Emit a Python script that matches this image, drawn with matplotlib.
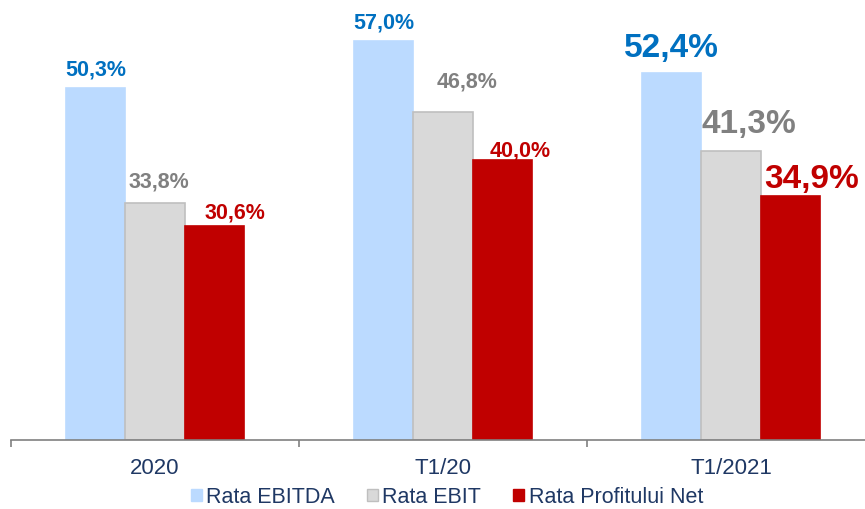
import matplotlib
matplotlib.use("Agg")
import matplotlib.pyplot as plt
import numpy as np
from matplotlib.patches import Patch

categories = ["2020", "T1/20", "T1/2021"]
ebitda = [50.3, 57.0, 52.4]
ebit = [33.8, 46.8, 41.3]
net = [30.6, 40.0, 34.9]
series_names = ["Rata EBITDA", "Rata EBIT", "Rata Profitului Net"]

plt.rcParams['font.family'] = ['Liberation Sans', 'DejaVu Sans']

fig = plt.figure(figsize=(8.65, 5.10), dpi=100)
ax = fig.add_axes([11/865, 69/510, 864/865, 441/510])

x = np.arange(len(categories))
w = 0.206
bar_colors = ["#BBDAFF", "#D9D9D9", "#C00000"]
edge_colors = ["#BBDAFF", "#BFBFBF", "#C00000"]
label_colors = ["#0070C0", "#808080", "#C00000"]
offsets = [-w, 0, w]
# label offsets (points): vertical gap above bar, horizontal shift
dy = [[9.7, 9.9, 12.1], [12.2, 18.7, 13.7], [5.8, 3.2, 6.5]]
dx = [[0, 0, 0], [2.9, 17.3, 12.6], [15.1, 13.0, 15.5]]
for k, (vals, off, fc, ec, lc) in enumerate(zip([ebitda, ebit, net], offsets, bar_colors, edge_colors, label_colors)):
    ax.bar(x + off, vals, width=w, color=fc, edgecolor=ec, linewidth=1.2)
    for i, v in enumerate(vals):
        size = 24 if i == 2 else 15.5
        ax.annotate(f"{v:.1f}%".replace(".", ","), (x[i] + off, v), xytext=(dx[k][i], dy[k][i]),
                    textcoords="offset points", ha="center", va="baseline",
                    fontsize=size, fontweight="bold", color=lc)

ax.set_xlim(-0.5, 2.5)
ax.set_ylim(0, 63.0)
for s in ["top", "right", "left"]:
    ax.spines[s].set_visible(False)
ax.spines["bottom"].set_color("#808080")
ax.spines["bottom"].set_linewidth(1.2)
ax.set_yticks([])
ax.set_xticks(x)
ax.set_xticklabels(categories, fontsize=16, color="#1F3864")
ax.tick_params(axis="x", which="major", length=0, pad=12)
ax.set_xticks([-0.5, 0.5, 1.5, 2.5], minor=True)
ax.tick_params(axis="x", which="minor", length=5, width=1.2, color="#808080")

handles = [Patch(facecolor=fc, edgecolor=ec) for fc, ec in zip(bar_colors, edge_colors)]
fig.legend(handles, series_names, loc="center", bbox_to_anchor=(447/865, 1 - 498/510), ncol=3,
           frameon=False, fontsize=15.5, handlelength=0.5, handleheight=0.5, handletextpad=0.2,
           columnspacing=1.5, labelcolor="#1F3864")

fig.savefig("out.png", dpi=100)
